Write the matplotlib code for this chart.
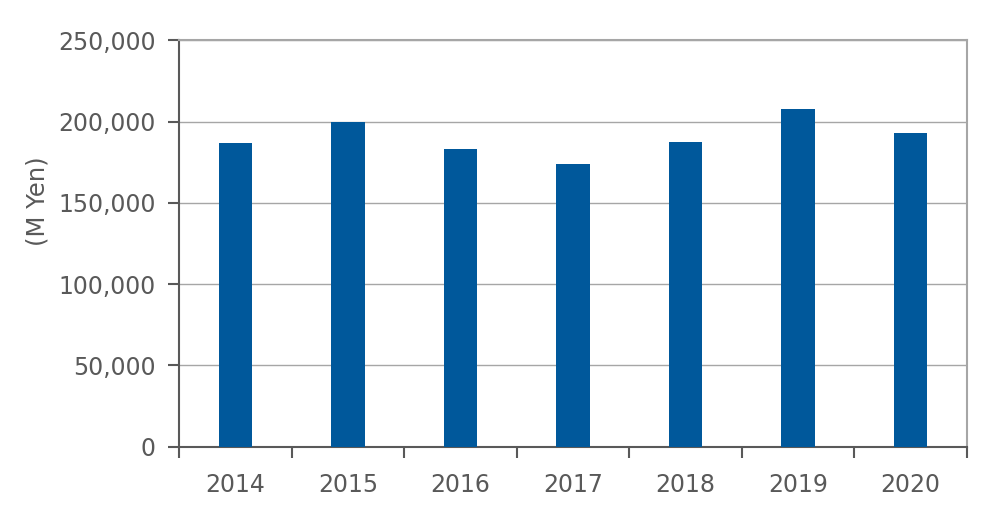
import matplotlib
matplotlib.use("Agg")
import matplotlib.pyplot as plt
from matplotlib.ticker import FuncFormatter, FixedLocator
import numpy as np

years = ["2014", "2015", "2016", "2017", "2018", "2019", "2020"]
values = [186700, 199600, 183400, 173800, 187500, 207600, 193200]
yticks = [0, 50000, 100000, 150000, 200000, 250000]

plt.rcParams['font.family'] = ['DejaVu Sans']
text_color = '#595959'

fig = plt.figure(figsize=(10, 5.21), dpi=100)
ax = fig.add_axes([0.1793, 0.1426, 0.9667 - 0.1793, 0.9223 - 0.1426])

x = np.arange(len(years))
ax.bar(x, values, width=0.3, color='#00589B', zorder=3)

ax.set_xlim(-0.5, len(years) - 0.5)
ax.set_ylim(0, 250000)
ax.set_yticks(yticks)
ax.yaxis.set_major_formatter(FuncFormatter(lambda v, p: f"{int(v):,}"))
ax.set_xticks(x)
ax.set_xticklabels(years)
ax.xaxis.set_minor_locator(FixedLocator(np.arange(-0.5, len(years), 1.0)))

ax.grid(axis='y', color='#A6A6A6', linewidth=1.0, zorder=0)
ax.tick_params(axis='y', which='major', length=8, width=1.5, color=text_color,
               labelsize=17, labelcolor=text_color, pad=9, direction='out')
ax.tick_params(axis='x', which='major', length=0, labelsize=17,
               labelcolor=text_color, pad=19)
ax.tick_params(axis='x', which='minor', length=8, width=1.5, color=text_color,
               direction='out')

for s in ['left', 'bottom']:
    ax.spines[s].set_color(text_color)
    ax.spines[s].set_linewidth(1.5)
for s in ['top', 'right']:
    ax.spines[s].set_color('#A6A6A6')
    ax.spines[s].set_linewidth(1.5)

fig.text(37 / 1000, 1 - 201 / 521, "(M Yen)", rotation=90, ha='center', va='center',
         fontsize=17.5, color=text_color)

fig.savefig("out.png", dpi=100)
